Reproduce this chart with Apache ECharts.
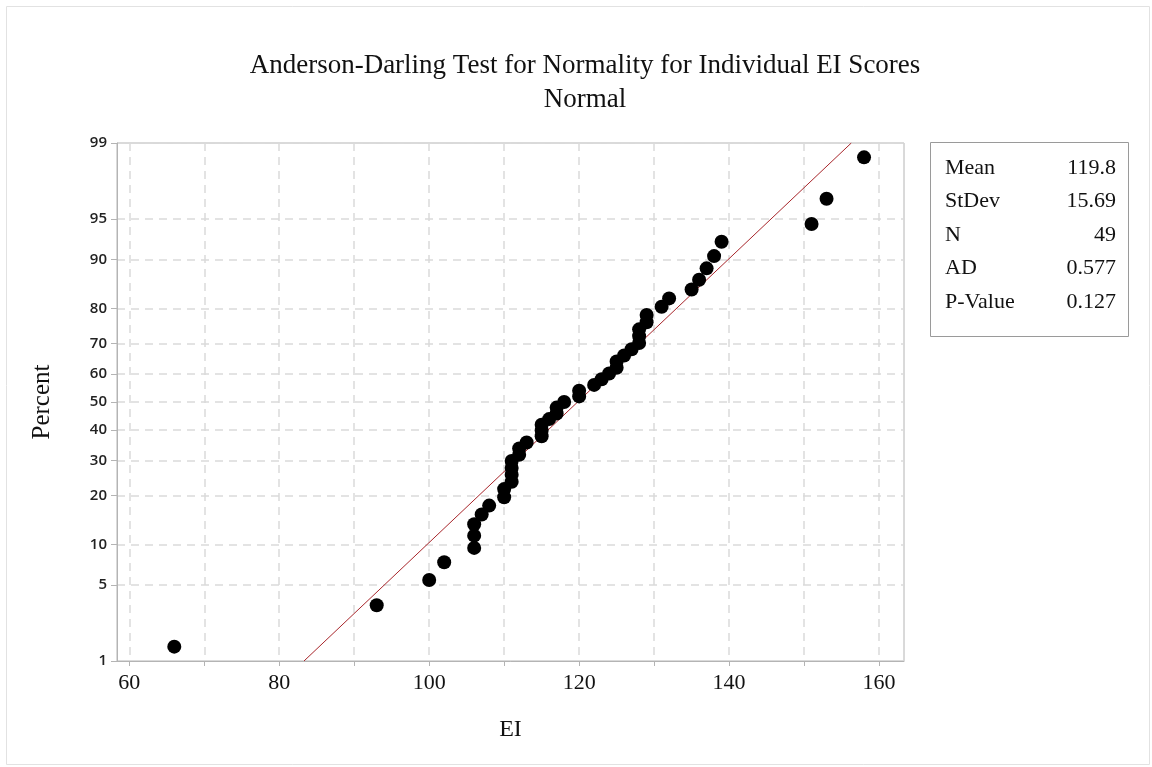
<!DOCTYPE html>
<html>
<head>
<meta charset="utf-8">
<script src="https://cdn.jsdelivr.net/npm/echarts@6/dist/echarts.min.js"></script>
<style>
  html, body { margin: 0; padding: 0; background: #fff; }
  #main { width: 1152px; height: 767px; }
</style>
</head>
<body>
<div id="main"></div>
<script>
// EI scores (sorted) and their plotted percent positions
var eiScores = [66, 93, 100, 102, 106, 106, 106, 107, 108, 110, 110, 111, 111, 111, 111, 112, 112, 113,
  115, 115, 115, 116, 117, 117, 118, 120, 120, 122, 123, 124, 125, 125, 126, 127, 128, 128, 128, 129, 129,
  131, 132, 135, 136, 137, 138, 139, 151, 153, 158];
var percents = [1.4, 3.4, 5.5, 7.5, 9.5, 11.5, 13.6, 15.6, 17.6, 19.6, 21.7, 23.7, 25.7, 27.7, 29.8, 31.8, 33.8, 35.8,
  37.9, 39.9, 41.9, 43.9, 45.9, 48.0, 50.0, 52.0, 54.0, 56.1, 58.1, 60.1, 62.1, 64.2, 66.2, 68.2, 70.2, 72.3, 74.3, 76.3, 78.3,
  80.4, 82.4, 84.4, 86.4, 88.5, 90.5, 92.5, 94.5, 96.6, 98.6];

// fitted normal line ends (EI, percent)
var fitEI = [83.3, 156.3];
var fitPct = [1, 99];

var yTicks = [1, 5, 10, 20, 30, 40, 50, 60, 70, 80, 90, 95, 99];
var xTicks = [60, 70, 80, 90, 100, 110, 120, 130, 140, 150, 160];
var xLabels = [60, 80, 100, 120, 140, 160];

var statNames = ['Mean', 'StDev', 'N', 'AD', 'P-Value'];
var statValues = ['119.8', '15.69', '49', '0.577', '0.127'];

// inverse normal cdf (probability scale of the y axis)
function probit(p) {
  var a = [-39.69683028665376, 220.9460984245205, -275.9285104469687, 138.3577518672690, -30.66479806614716, 2.506628277459239];
  var b = [-54.47609879822406, 161.5858368580409, -155.6989798598866, 66.80131188771972, -13.28068155288572];
  var c = [-0.007784894002430293, -0.3223964580411365, -2.400758277161838, -2.549732539343734, 4.374664141464968, 2.938163982698783];
  var d = [0.007784695709041462, 0.3224671290700398, 2.445134137142996, 3.754408661907416];
  var pl = 0.02425, q, r;
  if (p < pl) {
    q = Math.sqrt(-2 * Math.log(p));
    return (((((c[0]*q+c[1])*q+c[2])*q+c[3])*q+c[4])*q+c[5]) / ((((d[0]*q+d[1])*q+d[2])*q+d[3])*q+1);
  }
  if (p <= 1 - pl) {
    q = p - 0.5; r = q * q;
    return (((((a[0]*r+a[1])*r+a[2])*r+a[3])*r+a[4])*r+a[5])*q / (((((b[0]*r+b[1])*r+b[2])*r+b[3])*r+b[4])*r+1);
  }
  q = Math.sqrt(-2 * Math.log(1 - p));
  return -(((((c[0]*q+c[1])*q+c[2])*q+c[3])*q+c[4])*q+c[5]) / ((((d[0]*q+d[1])*q+d[2])*q+d[3])*q+1);
}

var yTickZ = yTicks.map(function (p) { return probit(p / 100); });
var points = eiScores.map(function (x, i) { return [x, probit(percents[i] / 100)]; });
var fitLine = fitEI.map(function (x, i) { return [x, probit(fitPct[i] / 100)]; });

var serif = '"Liberation Serif", "Times New Roman", serif';
var gridColor = '#dadada';
var frameColor = '#b4b4b4';

var statText = [];
statNames.forEach(function (name, i) {
  statText.push({
    type: 'text', left: 945, top: 157 + i * 33.5,
    style: { text: name, font: '22px ' + serif, fill: '#111' }
  });
  statText.push({
    type: 'text', right: 1152 - 1116, top: 157 + i * 33.5,
    style: { text: statValues[i], font: '22px ' + serif, fill: '#111', align: 'right' }
  });
});

var chart = echarts.init(document.getElementById('main'));
chart.setOption({
  animation: false,
  backgroundColor: '#fff',
  title: {
    text: 'Anderson-Darling Test for Normality for Individual EI Scores\nNormal',
    left: 580, top: 44, textAlign: 'center',
    textStyle: { fontFamily: serif, fontSize: 27, fontWeight: 'normal', color: '#111', lineHeight: 34 }
  },
  grid: {
    left: 117, top: 143, width: 787, height: 518,
    show: true, borderColor: frameColor, borderWidth: 1, backgroundColor: '#fff'
  },
  xAxis: {
    type: 'value', min: 58.36, max: 163.33,
    name: 'EI', nameLocation: 'middle', nameGap: 57,
    nameTextStyle: { fontFamily: serif, fontSize: 24, color: '#111' },
    axisLine: { show: true, onZero: false, lineStyle: { color: frameColor } },
    axisTick: { show: true, inside: false, length: 5, customValues: xTicks, lineStyle: { color: frameColor } },
    axisLabel: { customValues: xLabels, fontFamily: serif, fontSize: 22, color: '#111', margin: 11 },
    splitLine: { show: true, lineStyle: { color: gridColor, type: [8, 6], width: 1.5 } }
  },
  yAxis: {
    type: 'value', min: probit(0.01), max: probit(0.99),
    name: 'Percent', nameLocation: 'middle', nameGap: 62, nameRotate: 90,
    nameTextStyle: { fontFamily: serif, fontSize: 25, color: '#111' },
    axisLine: { show: true, onZero: false, lineStyle: { color: frameColor } },
    axisTick: { show: true, inside: false, length: 6, customValues: yTickZ, lineStyle: { color: frameColor } },
    axisLabel: {
      customValues: yTickZ, fontFamily: '"Open Sans", "DejaVu Sans", sans-serif', fontSize: 15, fontWeight: 600,
      color: '#222', margin: 10,
      formatter: function (v) {
        for (var i = 0; i < yTickZ.length; i++) {
          if (Math.abs(yTickZ[i] - v) < 1e-6) return String(yTicks[i]);
        }
        return '';
      }
    },
    splitLine: { show: true, lineStyle: { color: gridColor, type: [8, 6], width: 1.5 } }
  },
  graphic: [
    {
      type: 'rect', left: 4, top: 4, silent: true,
      shape: { width: 1143, height: 758 },
      style: { fill: 'none', stroke: '#e2e2e2', lineWidth: 1 }
    },
    {
      type: 'rect', left: 930, top: 142, silent: true,
      shape: { width: 198, height: 194 },
      style: { fill: '#fff', stroke: '#9a9a9a', lineWidth: 1 }
    }
  ].concat(statText),
  series: [
    {
      type: 'line', data: fitLine, showSymbol: false, symbol: 'none',
      lineStyle: { color: '#a8262b', width: 1 }, z: 2, silent: true
    },
    {
      type: 'scatter', data: points, symbol: 'circle', symbolSize: 14,
      itemStyle: { color: '#000', opacity: 1 }, z: 3, silent: true
    }
  ]
});
</script>
</body>
</html>
